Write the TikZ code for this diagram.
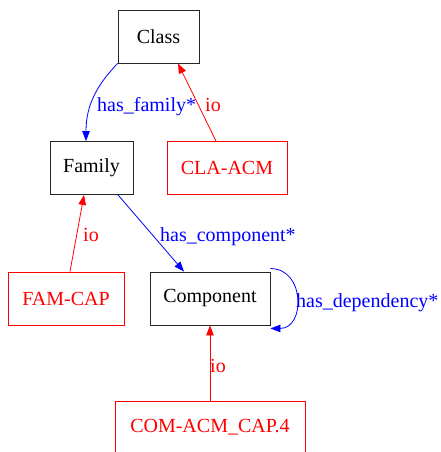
\documentclass[tikz,border=0pt]{standalone}
\usepackage{fontspec}
\setmainfont{Liberation Serif}
\usetikzlibrary{arrows.meta, positioning}

\begin{document}
\begin{tikzpicture}[
    x=1pt, y=-1pt, % one unit per pixel, y going down
    % Define node style for the types
    type style/.style={
        draw=black!85, % Dark border
        rectangle, % Rectangle shape
        line width=0.9pt,
        minimum height=53pt, % Minimum height
        align=center, % Center alignment
        font=\fontsize{20}{24}\selectfont
      },
    % Define node style for the instances
    inst style/.style={
        type style,
        draw=red, % Red border
        text=red
      },
    % Define edge label style
    label style/.style={
        inner sep=0pt,
        anchor=base west,
        font=\fontsize{20}{24}\selectfont
      },
    % Define arrow styles
    rel edge/.style={->, draw=blue, line width=0.8pt},
    io edge/.style={->, draw=red, line width=0.8pt},
    >={Triangle[length=10pt, width=7.5pt]} % Arrow type
  ]
  \useasboundingbox (0,0) rectangle (441,452);

  % Define nodes
  \node[type style, minimum width=81pt] (Class) at (158.5, 36.5) {Class}; % top type
  \node[type style, minimum width=83pt] (Family) at (91.5, 168) {Family}; % below Class, to the left
  \node[inst style, minimum width=120pt] (CLAACM) at (227, 168) {CLA-ACM}; % same level as Family
  \node[inst style, minimum width=116pt] (FAMCAP) at (66, 298.5) {FAM-CAP}; % under Family
  \node[type style, minimum width=120pt] (Component) at (210, 298.5) {Component}; % same level as FAM-CAP
  \node[inst style, minimum width=190pt] (COMACM) at (210, 427.5) {COM-ACM\_CAP.4}; % bottom

  % Draw arrows and labels
  % has_family: curved, from the corner of Class
  \draw[rel edge] (Class.south west) .. controls (98,84) and (86,104) .. ([xshift=-5.5pt]Family.north);
  \node[label style, text=blue] (lblfamily) at (97, 111) {has\_family*};

  % io: CLA-ACM up to Class
  \draw[io edge] ([xshift=-11pt]CLAACM.north) -- ([xshift=19.5pt]Class.south);
  \node[label style, text=red] (lblcla) at (205, 111) {io};

  % io: FAM-CAP up to Family
  \draw[io edge] ([xshift=4pt]FAMCAP.north) -- ([xshift=-7.5pt]Family.south);
  \node[label style, text=red] (lblfam) at (83, 241.5) {io};

  % has_component: straight
  \draw[rel edge] ([xshift=26.5pt]Family.south) -- ([xshift=-26pt]Component.north);
  \node[label style, text=blue] (lblcomponent) at (160, 241.5) {has\_component*};

  % has_dependency: self-loop on the right side
  \draw[rel edge] ([yshift=3pt]Component.north east) .. controls +(35,0) and +(35,0) .. ([yshift=-3pt]Component.south east);
  \node[label style, text=blue] (lbldependency) at (296, 307) {has\_dependency*};

  % io: COM-ACM_CAP.4 up to Component
  \draw[io edge] (COMACM.north) -- (Component.south);
  \node[label style, text=red] (lblcom) at (210, 372.5) {io};

\end{tikzpicture}
\end{document}
